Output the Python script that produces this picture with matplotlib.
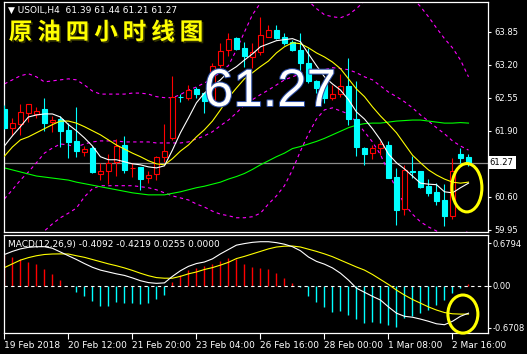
import numpy as np
import matplotlib
matplotlib.use('Agg')
import matplotlib.pyplot as plt
import matplotlib.patheffects as pe
from matplotlib.patches import Ellipse

# USOIL H4 candles, 59 bars (19 Feb 2018 .. 2 Mar 2018)
opens = [62.33, 61.96, 62.03, 62.25, 62.23, 62.32, 62.07, 62.13, 61.92, 61.70,
         61.48, 61.57, 61.05, 61.10, 61.29, 61.62, 61.16, 61.18, 60.97, 61.05,
         61.39, 61.75, 62.57, 62.55, 62.72, 62.64, 62.49, 63.20, 63.49, 63.72,
         63.52, 63.35, 63.44, 63.75, 63.88, 63.74, 63.65, 63.49, 63.23, 62.87,
         62.84, 62.55, 62.62, 62.78, 62.13, 61.56, 61.46, 61.56, 61.62, 61.00,
         60.36, 61.10, 61.11, 60.81, 60.70, 60.54, 60.23, 61.45, 61.39]
highs = [62.40, 62.15, 62.42, 62.43, 62.36, 62.55, 62.19, 62.19, 62.05, 62.36,
         61.60, 61.60, 61.26, 61.44, 61.73, 61.79, 61.27, 61.19, 61.10, 61.41,
         62.03, 62.98, 62.62, 62.80, 62.76, 62.65, 63.24, 63.62, 63.82, 63.75,
         63.65, 63.62, 64.14, 63.98, 63.98, 63.82, 63.69, 63.82, 63.52, 62.90,
         62.90, 62.80, 63.02, 63.33, 62.87, 61.59, 61.61, 61.69, 61.69, 61.16,
         61.23, 61.41, 61.11, 60.95, 60.87, 60.85, 61.36, 61.56, 61.44]
lows = [61.94, 61.82, 61.82, 62.08, 62.16, 61.90, 61.88, 61.59, 61.36, 61.39,
        61.41, 61.07, 60.93, 60.85, 61.02, 61.06, 61.00, 60.73, 60.87, 60.93,
        61.29, 61.72, 62.47, 62.51, 62.54, 62.24, 62.47, 63.13, 63.36, 63.49,
        63.16, 63.13, 63.39, 63.75, 63.70, 63.59, 63.46, 63.03, 62.84, 62.64,
        62.44, 62.51, 62.57, 62.02, 61.41, 61.23, 61.34, 61.43, 60.97, 60.05,
        60.25, 60.97, 60.77, 60.61, 60.44, 60.02, 60.16, 61.26, 61.21]
closes = [61.96, 62.05, 62.26, 62.42, 62.29, 62.06, 62.11, 61.90, 61.67, 61.51,
          61.54, 61.08, 61.10, 61.27, 61.60, 61.13, 61.17, 60.95, 61.03, 61.39,
          61.50, 62.56, 62.56, 62.70, 62.62, 62.49, 63.18, 63.46, 63.70, 63.50,
          63.36, 63.44, 63.79, 63.88, 63.73, 63.62, 63.48, 63.23, 62.87, 62.74,
          62.54, 62.62, 62.78, 62.13, 61.58, 61.44, 61.57, 61.64, 60.98, 60.34,
          61.13, 61.09, 60.80, 60.68, 60.52, 60.23, 61.10, 61.37, 61.27]

ma_white = [61.60, 61.80, 61.98, 62.17, 62.21, 62.23, 62.23, 62.17, 62.02, 61.90,
            61.76, 61.60, 61.39, 61.33, 61.33, 61.29, 61.25, 61.23, 61.19, 61.17,
            61.21, 61.52, 61.86, 62.15, 62.45, 62.64, 62.78, 62.90, 63.06, 63.16,
            63.29, 63.41, 63.55, 63.61, 63.67, 63.69, 63.71, 63.65, 63.41, 63.18,
            62.96, 62.82, 62.70, 62.51, 62.27, 62.13, 61.94, 61.72, 61.44, 61.27,
            61.15, 61.01, 60.87, 60.85, 60.84, 60.70, 60.68, 60.78, 60.87]
ma_yellow = [61.40, 61.58, 61.72, 61.78, 61.86, 61.94, 62.02, 62.09, 62.09, 62.05,
             61.98, 61.90, 61.82, 61.72, 61.62, 61.54, 61.46, 61.39, 61.31, 61.25,
             61.23, 61.35, 61.50, 61.62, 61.78, 61.92, 62.09, 62.31, 62.55, 62.74,
             62.92, 63.04, 63.16, 63.27, 63.43, 63.55, 63.63, 63.61, 63.53, 63.43,
             63.35, 63.25, 63.12, 62.92, 62.72, 62.57, 62.37, 62.19, 62.03, 61.86,
             61.64, 61.42, 61.27, 61.13, 61.03, 60.95, 60.89, 60.87, 60.89]
ma_green = [61.17, 61.13, 61.09, 61.05, 61.01, 60.99, 60.97, 60.95, 60.93, 60.89,
            60.86, 60.83, 60.80, 60.77, 60.74, 60.71, 60.68, 60.66, 60.64, 60.64,
            60.64, 60.67, 60.70, 60.74, 60.78, 60.81, 60.85, 60.89, 60.95, 61.00,
            61.06, 61.14, 61.23, 61.31, 61.39, 61.46, 61.55, 61.59, 61.64, 61.69,
            61.75, 61.82, 61.89, 61.96, 62.01, 62.04, 62.05, 62.05, 62.07, 62.09,
            62.10, 62.11, 62.11, 62.09, 62.07, 62.05, 62.05, 62.06, 62.05]
bb_upper = [62.82, 62.90, 62.98, 63.02, 62.96, 62.86, 62.88, 62.90, 62.92, 62.90,
            62.80, 62.68, 62.62, 62.62, 62.62, 62.62, 62.64, 62.64, 62.62, 62.57,
            62.55, 62.55, 62.61, 62.70, 62.76, 62.84, 62.92, 63.06, 63.18, 63.49,
            63.84, 64.18, 64.41, 64.67, 64.87, 64.97, 64.87, 64.67, 64.45, 64.30,
            64.18, 64.14, 64.12, 64.18, 64.30, 64.45, 64.67, 64.83, 64.91, 64.87,
            64.71, 64.51, 64.34, 64.14, 63.92, 63.71, 63.53, 63.29, 62.96]
bb_mid = [60.56, 60.74, 60.93, 61.09, 61.27, 61.46, 61.56, 61.64, 61.62, 61.58,
          61.64, 61.68, 61.70, 61.70, 61.70, 61.68, 61.68, 61.68, 61.68, 61.66,
          61.66, 61.66, 61.66, 61.68, 61.74, 61.80, 61.88, 62.00, 62.11, 62.25,
          62.41, 62.51, 62.61, 62.70, 62.80, 62.90, 62.96, 63.02, 63.06, 63.08,
          63.10, 63.14, 63.12, 63.10, 63.04, 62.96, 62.90, 62.78, 62.66, 62.57,
          62.47, 62.35, 62.21, 62.09, 61.96, 61.84, 61.70, 61.60, 61.52]
bb_lower = [58.30, 58.57, 58.89, 59.16, 59.58, 59.93, 60.07, 60.19, 60.28, 60.38,
            60.60, 60.76, 60.82, 60.82, 60.82, 60.82, 60.82, 60.80, 60.78, 60.74,
            60.68, 60.62, 60.58, 60.54, 60.46, 60.40, 60.32, 60.26, 60.23, 60.19,
            60.19, 60.21, 60.28, 60.46, 60.62, 60.82, 61.13, 61.50, 61.84, 62.13,
            62.31, 62.35, 62.29, 62.23, 62.07, 61.88, 61.68, 61.43, 61.09, 60.74,
            60.46, 60.26, 60.11, 60.01, 59.93, 59.83, 59.79, 59.83, 59.93]

macd_hist = [0.49, 0.465, 0.42, 0.385, 0.348, 0.268, 0.187, 0.091, -0.01, -0.096,
             -0.16, -0.24, -0.32, -0.325, -0.256, -0.282, -0.282, -0.293, -0.282, -0.213,
             -0.149, 0.054, 0.171, 0.251, 0.278, 0.315, 0.342, 0.396, 0.449, 0.42,
             0.348, 0.305, 0.278, 0.262, 0.209, 0.129, 0.048, -0.027, -0.16, -0.256,
             -0.347, -0.417, -0.406, -0.47, -0.539, -0.603, -0.577, -0.603, -0.63, -0.667,
             -0.523, -0.486, -0.443, -0.389, -0.309, -0.229, -0.122, -0.042, 0.0255]
macd_dif = [0.50, 0.55, 0.59, 0.615, 0.625, 0.625, 0.60, 0.54, 0.48, 0.42,
            0.355, 0.295, 0.25, 0.22, 0.19, 0.165, 0.125, 0.08, 0.05, 0.038,
            0.045, 0.15, 0.24, 0.31, 0.355, 0.38, 0.43, 0.51, 0.58, 0.65,
            0.675, 0.695, 0.705, 0.705, 0.69, 0.665, 0.625, 0.56, 0.46, 0.39,
            0.345, 0.285, 0.20, 0.09, -0.04, -0.105, -0.17, -0.23, -0.34, -0.44,
            -0.49, -0.505, -0.535, -0.57, -0.61, -0.625, -0.57, -0.49, -0.44]
macd_dea = [0.29, 0.35, 0.41, 0.45, 0.48, 0.50, 0.508, 0.51, 0.508, 0.48,
            0.455, 0.42, 0.385, 0.35, 0.32, 0.285, 0.245, 0.20, 0.16, 0.13,
            0.12, 0.12, 0.15, 0.19, 0.22, 0.26, 0.29, 0.33, 0.375, 0.435,
            0.47, 0.51, 0.55, 0.59, 0.62, 0.633, 0.636, 0.62, 0.585, 0.55,
            0.51, 0.465, 0.41, 0.355, 0.30, 0.25, 0.18, 0.10, 0.02, -0.07,
            -0.15, -0.22, -0.28, -0.34, -0.39, -0.43, -0.45, -0.455, -0.455]

price_ticks = [63.85, 63.20, 62.55, 61.90, 60.60, 59.95]
last_price = 61.27
macd_ticks = [0.6794, 0.0, -0.6708]
macd_tick_labels = ['0.6794', '0.00', '-0.6708']
time_ticks = [0, 8, 16, 24, 32, 40, 48, 56]
time_labels = ['19 Feb 2018', '20 Feb 12:00', '21 Feb 20:00', '23 Feb 04:00',
               '26 Feb 16:00', '28 Feb 00:00', '1 Mar 08:00', '2 Mar 16:00']

RED = '#ff0000'
CYAN = '#00ffff'
W, H = 527, 354

fig = plt.figure(figsize=(W / 100, H / 100), dpi=100, facecolor='black')
ax = fig.add_axes([4 / W, 1 - 232 / H, 483.7 / W, 230 / H], facecolor='black')
ax2 = fig.add_axes([4 / W, 1 - 332.7 / H, 483.7 / W, 97.7 / H], facecolor='black')

o = np.array(opens); c = np.array(closes)
x = np.arange(len(o))
up = c > o
col = np.where(up, RED, CYAN)

# price line, indicators
ax.axhline(last_price, color='#8c8c8c', lw=0.9, zorder=1)
dash = (0, (3, 3))
for band in (bb_upper, bb_mid, bb_lower):
    ax.plot(x, band, color='#ff00ff', lw=0.8, ls=dash, zorder=2)
ax.plot(x, ma_green, color='#00ff00', lw=0.8, zorder=2)

# candles
ax.vlines(x, lows, highs, colors=col, lw=0.8, zorder=3)
ax.bar(x, np.abs(c - o), bottom=np.minimum(o, c), width=0.55,
       color=np.where(up, 'black', CYAN), edgecolor=col, lw=0.8, zorder=4)

ax.plot(x, ma_yellow, color='#ffff00', lw=0.8, zorder=5)
ax.plot(x, ma_white, color='white', lw=0.8, zorder=5)

ax.set_xlim(-0.05, 60.4)
ax.set_ylim(59.91, 64.43)
ax.set_xticks([])
ax.yaxis.tick_right()
ax.set_yticks(price_ticks)
ax.set_yticklabels(['%.2f' % v for v in price_ticks])
ax.tick_params(axis='y', colors='white', labelsize=6, length=2.5, width=0.8, pad=2.5)
for s in ax.spines.values():
    s.set_color('white'); s.set_linewidth(0.9)
ax.text(1.004, last_price, '%.2f' % last_price, transform=ax.get_yaxis_transform(),
        ha='left', va='center', fontsize=6, color='black',
        bbox=dict(boxstyle='square,pad=0.25', fc='white', ec='none'))

ax.add_patch(Ellipse((57.8, 60.78), 3.75, 0.95, fill=False, ec='#ffff00', lw=2.2, zorder=8))

# MACD panel
ax2.vlines(x, 0, macd_hist, colors=np.where(np.array(macd_hist) > 0, RED, CYAN), lw=1.0)
ax2.axhline(0, color='white', lw=0.8, ls=dash)
ax2.plot(x, macd_dea, color='#ffff00', lw=0.8)
ax2.plot(x, macd_dif, color='white', lw=0.8)
ax2.add_patch(Ellipse((57.3, -0.454), 3.75, 0.61, fill=False, ec='#ffff00', lw=2.2,
                      zorder=8, clip_on=False))
ax2.set_xlim(-0.05, 60.4)
ax2.set_ylim(-0.753, 0.8125)
ax2.yaxis.tick_right()
ax2.set_yticks(macd_ticks)
ax2.set_yticklabels(macd_tick_labels)
ax2.set_xticks(time_ticks)
ax2.set_xticklabels(time_labels)
for lab in ax2.get_xticklabels():
    lab.set_ha('left')
ax2.tick_params(axis='y', colors='white', labelsize=6, length=2, width=0.8, pad=1.5)
ax2.tick_params(axis='x', colors='white', labelsize=6.5, length=4, width=0.8, pad=2)
for s in ax2.spines.values():
    s.set_color('white'); s.set_linewidth(0.9)

# texts
fig.text(8 / W, 1 - 10 / H, u'\u25bc USOIL,H4  61.39 61.44 61.21 61.27', color='white',
         fontsize=6.5, va='center', ha='left')
fig.text(8 / W, 1 - 245 / H, 'MACD(12,26,9) -0.4092 -0.4219 0.0255 0.0000', color='white',
         fontsize=6.5, va='center', ha='left')

title = u'原油四小时线图'
for k, ch in enumerate(title):
    fig.text((20.5 + 28.5 * k) / W, 1 - 32.5 / H, ch, color='#ffff00', fontsize=17,
             family=['Noto Sans CJK SC', 'DejaVu Sans'], weight='bold', ha='center', va='center',
             path_effects=[pe.withSimplePatchShadow(offset=(1.2, -1.2), shadow_rgbFace='#303000', alpha=1)])

fig.text(270 / W, 1 - 92 / H, '%.2f' % last_price, color='white', fontsize=38,
         family='Liberation Sans', ha='center', va='center', zorder=10,
         path_effects=[pe.withStroke(linewidth=1.5, foreground='#2a4aa0')])

fig.savefig('out.png', dpi=100, facecolor='black')
